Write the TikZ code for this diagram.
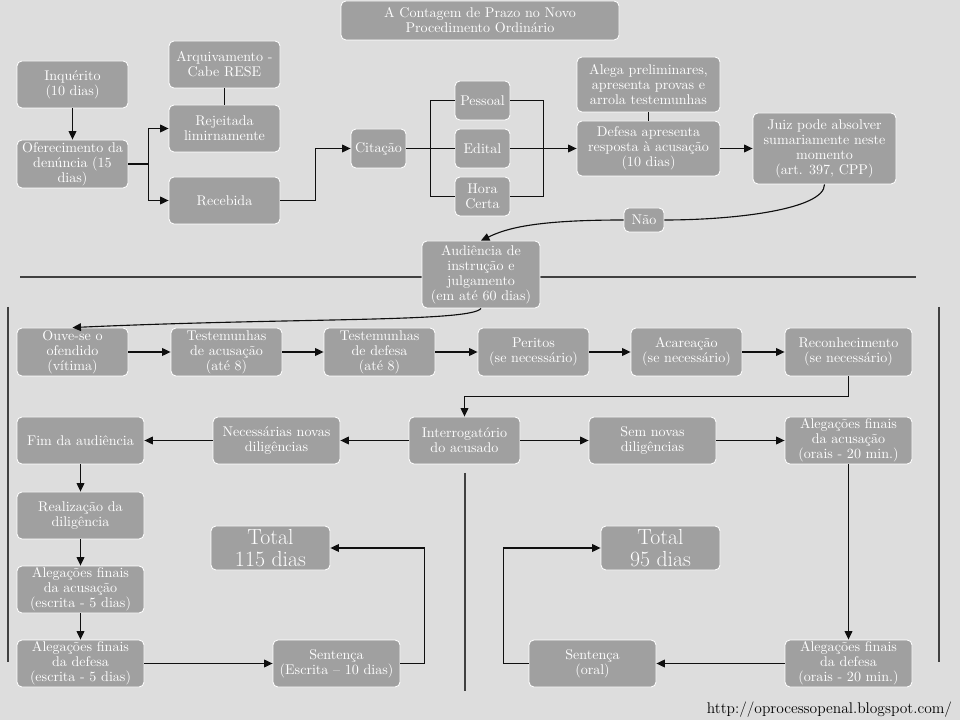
\documentclass[tikz,border=0pt]{standalone}
\usepackage{fontspec}
\usetikzlibrary{arrows.meta, positioning}
\definecolor{Fundo}{RGB}{221,221,221}
\definecolor{Caixa}{RGB}{160,160,160}
\definecolor{Traco}{RGB}{15,15,15}
\def\u{0.025cm}

\begin{document}
\begin{tikzpicture}[x=\u, y=-\u, font=\fontsize{10}{10.7}\selectfont,
  caixa/.style={draw=white, line width=0.6pt, fill=Caixa, text=white, rounded corners=3.5pt, align=center, inner sep=0.5pt},
  total/.style={caixa, font=\fontsize{15.5}{15.5}\selectfont},
  seta/.style={draw=Traco, line width=0.8pt, -{Triangle[length=6pt, width=5.5pt]}},
  liga/.style={draw=Traco, line width=0.8pt},
  divisor/.style={draw=black!75, line width=1pt}]

% fundo
\fill[Fundo] (0,0) rectangle (960,720);
\useasboundingbox (0,0) rectangle (960,720);

% divisorias
\draw[divisor] (20,277) -- (916,277);
\draw[divisor] (8,307) -- (8,662);
\draw[divisor] (939,307) -- (939,662);
\draw[divisor] (465,473) -- (465,691);

% caixas: nome/x/y/largura/altura/texto
\foreach \n/\x/\y/\w/\h/\t in {%
    titulo/480/20.5/278/39/{A Contagem de Prazo no Novo\\Procedimento Ordinário},
    inq/72.5/84.5/111/47/{Inquérito\\(10 dias)},
    ofer/72.5/164/111/48/{Oferecimento da\\denúncia (15\\dias)},
    arq/224.5/64.5/111/47/{Arquivamento -\\Cabe RESE},
    rej/224.5/128.5/111/47/{Rejeitada\\limirnamente},
    rec/224.5/200.5/111/47/{Recebida},
    cit/378.5/148.5/55/39/{Citação},
    pes/482.5/100.5/55/39/{Pessoal},
    edi/482.5/148.5/55/39/{Edital},
    hora/482.5/196.5/55/39/{Hora\\Certa},
    alega/648.5/84.5/143/55/{Alega preliminares,\\apresenta provas e\\arrola testemunhas},
    def/648.5/148.5/143/55/{Defesa apresenta\\resposta à acusação\\(10 dias)},
    juiz/824.5/148.5/143/71/{Juiz pode absolver\\sumariamente neste\\momento\\(art. 397, CPP)},
    nao/644/220/40/24/{Não},
    aud/481/274.5/118/67/{Audiência de\\instrução e\\julgamento\\(em até 60 dias)},
    ouve/72.5/352/111/48/{Ouve-se o\\ofendido\\(vítima)},
    tacu/226.5/352/111/48/{Testemunhas\\de acusação\\(até 8)},
    tdef/379.5/352/111/48/{Testemunhas\\de defesa\\(até 8)},
    per/533.5/352/111/48/{Peritos\\(se necessário)},
    aca/686.5/352/111/48/{Acareação\\(se necessário)},
    recon/848.5/352/127/48/{Reconhecimento\\(se necessário)},
    fim/80.5/440.5/127/47/{Fim da audiência},
    nec/276.5/440.5/127/47/{Necessárias novas\\diligências},
    int/464.5/440.5/111/47/{Interrogatório\\do acusado},
    sem/652.5/440.5/127/47/{Sem novas\\diligências},
    aafo/848.5/440.5/127/47/{Alegações finais\\da acusação\\(orais - 20 min.)},
    real/80.5/515.5/127/47/{Realização da\\diligência},
    aace/80.5/589.5/127/47/{Alegações finais\\da acusação\\(escrita - 5 dias)},
    adfe/80.5/663.5/127/47/{Alegações finais\\da defesa\\(escrita - 5 dias)},
    sen1/336.5/663.5/127/47/{Sentença\\(Escrita – 10 dias)},
    sen2/592.5/663.5/127/47/{Sentença\\(oral)},
    adfo/848.5/663.5/127/47/{Alegações finais\\da defesa\\(orais - 20 min.)}}{%
    \node[caixa, minimum width=\w*\u, minimum height=\h*\u] (\n) at (\x,\y) {\t};
}

% totais
\node[total, minimum width=119*\u, minimum height=44*\u] (tot1) at (270.5,548) {Total\\115 dias};
\node[total, minimum width=119*\u, minimum height=44*\u] (tot2) at (660.5,548) {Total\\95 dias};

% setas retas
\foreach \a/\b in {inq/ofer, edi/def, def/juiz, ouve/tacu, tacu/tdef, tdef/per, per/aca, aca/recon,
    int/nec, nec/fim, int/sem, sem/aafo, aafo/adfo, adfo/sen2, fim/real, real/aace, aace/adfe, adfe/sen1}
    \draw[seta] (\a) -- (\b);
\draw[liga] (arq) -- (rej);
\draw[liga] (alega) -- (def);

% setas com cotovelo
\draw[seta] (ofer.east) -- ++(20,0) |- (rej.west);
\draw[seta] (ofer.east) -- ++(20,0) |- (rec.west);
\draw[seta] (rec.east) -- ++(35,0) |- (cit.west);
\draw[liga] (cit.east) -- ++(24,0) |- (pes.west);
\draw[liga] (cit) -- (edi);
\draw[liga] (cit.east) -- ++(24,0) |- (hora.west);
\draw[liga] (pes.east) -- ++(33,0) |- (hora.east);
\draw[seta] (recon.south) -- ++(0,20) -| (int.north);
\draw[seta] (sen1.east) -- ++(24,0) |- (tot1.east);
\draw[seta] (sen2.west) -- ++(-25,0) |- (tot2.west);

% curvas
\draw[liga] (juiz.south) .. controls +(0,25) and +(70,0) .. (nao.east);
\draw[seta] (nao.west) .. controls +(-90,0) and +(25,-12) .. (aud.north);
\draw[seta] (aud.south) .. controls +(-10,14) and +(220,-10) .. (ouve.north);

% endereco
\node[anchor=base east, font=\fontsize{11}{12}\selectfont] (url) at (957,713) {http://oprocessopenal.blogspot.com/};

\end{tikzpicture}
\end{document}
